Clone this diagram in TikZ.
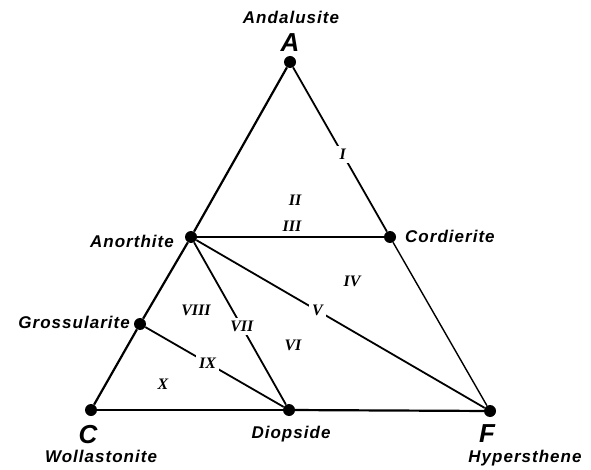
\documentclass[tikz,border=0pt]{standalone}
\usepackage{fontspec}
\setmainfont{Liberation Sans}
\newfontfamily\lblfont[LetterSpace=6]{Liberation Sans}
\newfontfamily\numfont{Liberation Serif}
\begin{document}
\begin{tikzpicture}[x=1pt,y=-1pt,
  pt/.style={circle,fill=black,inner sep=0pt,minimum size=12pt},
  lbl/.style={inner sep=0pt,font=\lblfont\bfseries\itshape\fontsize{17}{17}\selectfont},
  big/.style={inner sep=0pt,font=\bfseries\itshape\fontsize{26}{26}\selectfont},
  num/.style={inner sep=3pt,fill=white,font=\numfont\bfseries\itshape\fontsize{16}{16}\selectfont},
  freenum/.style={inner sep=0pt,font=\numfont\bfseries\itshape\fontsize{16}{16}\selectfont},
  thick line/.style={line width=2.2pt},
  mid line/.style={line width=1.8pt},
  thin line/.style={line width=1.4pt}]
\useasboundingbox (0,0) rectangle (591,470);
% vertices
\node[pt] (A) at (290,62) {};
\node[pt] (Co) at (390,237) {};
\node[pt] (F) at (490,411) {};
\node[pt] (C) at (91,410) {};
\node[pt] (D) at (289,410) {};
\node[pt] (An) at (191,237) {};
\node[pt] (G) at (140,324) {};
% edges
\draw[thick line] (A) -- (An);
\draw[thick line] (An) -- (G);
\draw[thick line] (G) -- (C);
\draw[thick line] (C) -- (D);
\draw[thick line] (D) -- (F);
\draw[thin line] (Co) -- (F);
\draw[mid line] (An) -- (Co);
\draw[mid line] (A) -- node[num,pos=0.53] (nI) {I} (Co);
\draw[mid line] (An) -- node[num,pos=0.42] (nV) {V} (F);
\draw[mid line] (An) -- node[num,pos=0.52] (nVII) {VII} (D);
\draw[mid line] (G) -- node[num,pos=0.45] (nIX) {IX} (D);
% free numerals
\node[freenum] (nII) at (295,200) {II};
\node[freenum] (nIII) at (292,226) {III};
\node[freenum] (nIV) at (352,281) {IV};
\node[freenum] (nVI) at (293,345) {VI};
\node[freenum] (nVIII) at (196,310) {VIII};
\node[freenum] (nX) at (163,384) {X};
% labels
\node[lbl] (lAnd) at (291,17) {Andalusite};
\node[big] (lA) at (290,43) {A};
\node[lbl,anchor=west] (lCo) at (405,236) {Cordierite};
\node[lbl,anchor=east] (lAn) at (174,241) {Anorthite};
\node[lbl,anchor=east] (lG) at (130,322) {Grossularite};
\node[big] (lC) at (88,435) {C};
\node[lbl] (lW) at (101,456) {Wollastonite};
\node[lbl] (lD) at (291,434) {Diopside};
\node[big] (lF) at (487,434) {F};
\node[lbl] (lH) at (525,458) {Hypersthene};
\end{tikzpicture}
\end{document}
